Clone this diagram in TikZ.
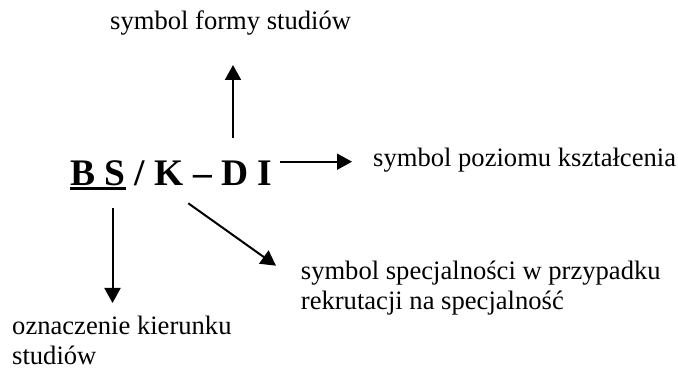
\documentclass[tikz,border=0pt]{standalone}
\usepackage{fontspec}
\setmainfont{Liberation Serif}
\usetikzlibrary{arrows.meta}
\begin{document}
\begin{tikzpicture}[x=1pt,y=1pt,
  lbl/.style={inner sep=0pt,anchor=base west,align=left,font=\fontsize{26.6}{30}\selectfont},
  mainlbl/.style={inner sep=0pt,anchor=base west,font=\fontsize{37.5}{40}\selectfont\bfseries},
  arr/.style={line width=2pt,-{Triangle[width=16pt,length=15pt]}}]
\useasboundingbox (0,0) rectangle (678,374);
\node[mainlbl] (main) at (70,188) {\rlap{\rule[-4pt]{56pt}{3pt}}B S / K – D I};
\node[lbl] (forma) at (110,344) {symbol formy studiów};
\node[lbl] (poziom) at (373,207) {symbol poziomu kształcenia};
\node[lbl] (spec) at (300.7,64) {symbol specjalności w przypadku\\rekrutacji na specjalność};
\node[lbl] (kier) at (12,9) {oznaczenie kierunku\\studiów};
\coordinate (upS) at (233,236);
\coordinate (upE) at (233,309);
\coordinate (rtS) at (280,212.3);
\coordinate (rtE) at (352,212.3);
\coordinate (dnS) at (112.5,166);
\coordinate (dnE) at (112.5,71);
\coordinate (dgS) at (188.3,170.7);
\coordinate (dgE) at (276,108.3);
\draw[arr] (upS) -- (upE);
\draw[arr] (rtS) -- (rtE);
\draw[arr] (dnS) -- (dnE);
\draw[arr] (dgS) -- (dgE);
\end{tikzpicture}
\end{document}
